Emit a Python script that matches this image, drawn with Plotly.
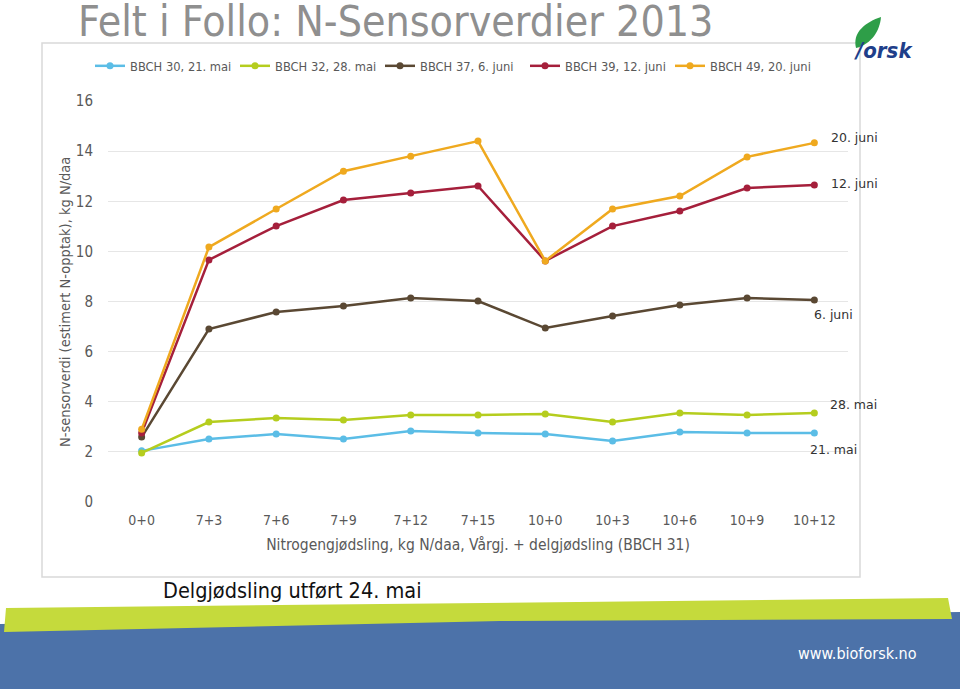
import plotly.graph_objects as go

categories = ["0+0", "7+3", "7+6", "7+9", "7+12", "7+15", "10+0", "10+3", "10+6", "10+9", "10+12"]
series_names = ["BBCH 30, 21. mai", "BBCH 32, 28. mai", "BBCH 37, 6. juni", "BBCH 39, 12. juni", "BBCH 49, 20. juni"]
end_labels = ["21. mai", "28. mai", "6. juni", "12. juni", "20. juni"]
bbch30 = [2.04, 2.51, 2.71, 2.51, 2.83, 2.75, 2.71, 2.43, 2.79, 2.75, 2.75]
bbch32 = [1.96, 3.19, 3.35, 3.27, 3.47, 3.47, 3.51, 3.19, 3.55, 3.47, 3.55]
bbch37 = [2.59, 6.90, 7.58, 7.82, 8.14, 8.02, 6.94, 7.42, 7.86, 8.14, 8.06]
bbch39 = [2.75, 9.66, 11.01, 12.05, 12.33, 12.61, 9.62, 11.01, 11.61, 12.53, 12.65]
bbch49 = [2.90, 10.17, 11.69, 13.20, 13.80, 14.40, 9.62, 11.69, 12.21, 13.77, 14.33]
y_ticks = [0, 2, 4, 6, 8, 10, 12, 14, 16]

values = [bbch30, bbch32, bbch37, bbch39, bbch49]
colors = ["#5BBDE6", "#B5CD1E", "#5A4833", "#A51F3B", "#EFA91F"]

W, H = 960, 689
L, R, T, B = 108, 112, 101, 187
PW, PH = W - L - R, H - T - B

def px(x):
    return (x - L) / PW

def py(y):
    return (H - B - y) / PH

font = "DejaVu Sans Condensed"
fig = go.Figure()
for name, vals, col in zip(series_names, values, colors):
    fig.add_trace(go.Scatter(
        x=categories, y=vals, name=name, mode="lines+markers",
        line=dict(color=col, width=2.5),
        marker=dict(color=col, size=7),
    ))

# end labels (pixel offsets from the last point)
label_offsets = [(-6, -16), (14, 9), (-2, -14), (15, 1), (15, 5)]
for lab, vals, (dx, dy) in zip(end_labels, values, label_offsets):
    fig.add_annotation(x=categories[-1], y=vals[-1], text=lab, showarrow=False,
                       xref="x", yref="y", xanchor="left", xshift=dx, yshift=dy,
                       font=dict(family="DejaVu Sans", size=12.5, color="#333333"))

shapes = []
# chart frame
shapes.append(dict(type="rect", xref="paper", yref="paper",
                   x0=px(42), x1=px(860), y0=py(577), y1=py(43),
                   line=dict(color="#D9D9D9", width=1.5), fillcolor="rgba(0,0,0,0)", layer="below"))
# blue band
shapes.append(dict(type="path", xref="paper", yref="paper",
                   path=f"M {px(0)},{py(624)} L {px(960)},{py(612)} L {px(960)},{py(689)} L {px(0)},{py(689)} Z",
                   fillcolor="#4C72A9", line=dict(width=0), layer="below"))
# green band
shapes.append(dict(type="path", xref="paper", yref="paper",
                   path=f"M {px(6)},{py(608)} L {px(948)},{py(598)} L {px(952)},{py(619)} L {px(500)},{py(621)} L {px(4)},{py(632)} Z",
                   fillcolor="#C5DA3C", line=dict(width=0), layer="below"))
# leaf logo
shapes.append(dict(type="path", xref="paper", yref="paper",
                   path=f"M {px(856)},{py(48)} C {px(852)},{py(32)} {px(866)},{py(22)} {px(881)},{py(17)} C {px(880)},{py(30)} {px(872)},{py(44)} {px(856)},{py(48)} Z",
                   fillcolor="#2E9E48", line=dict(width=0)))

fig.update_layout(
    width=W, height=H,
    margin=dict(l=L, r=R, t=T, b=B),
    paper_bgcolor="white", plot_bgcolor="white",
    shapes=shapes,
    showlegend=True,
    legend=dict(orientation="h", x=px(90), y=py(66), xanchor="left", yanchor="middle",
                font=dict(family=font, size=12.8, color="#595959"),
                bgcolor="rgba(0,0,0,0)", itemwidth=30, tracegroupgap=0,
                entrywidth=100, entrywidthmode="pixels"),
    xaxis=dict(type="category", range=[-0.5, 10.5], showgrid=False, zeroline=False,
               showline=False, ticks="", tickfont=dict(family=font, size=14, color="#595959"),
               ticklabelstandoff=8,
               title=dict(text="Nitrogengjødsling, kg N/daa, Vårgj. + delgjødsling (BBCH 31)",
                          font=dict(family=font, size=15.5, color="#595959"), standoff=12)),
    yaxis=dict(range=[0, 16], tickvals=y_ticks, showgrid=True, gridcolor="#E6E6E6", gridwidth=1,
               zeroline=False, showline=False, ticks="",
               tickfont=dict(family=font, size=15, color="#595959"), ticklabelstandoff=14),
)

fig.add_annotation(text="N-sensorverdi (estimert N-opptak), kg N/daa", xref="paper", yref="paper",
                   x=px(65), y=py(302), xanchor="center", yanchor="middle", textangle=-90, showarrow=False,
                   font=dict(family=font, size=14.5, color="#595959"))
fig.add_annotation(text="Felt i Follo: N-Sensorverdier 2013", xref="paper", yref="paper",
                   x=px(76), y=py(21), xanchor="left", yanchor="middle", showarrow=False,
                   font=dict(family=font, size=42.5, color="#8F8F8F"))
fig.add_annotation(text="Delgjødsling utført 24. mai", xref="paper", yref="paper",
                   x=px(161), y=py(590), xanchor="left", yanchor="middle", showarrow=False,
                   font=dict(family=font, size=21.5, color="#111111"))
fig.add_annotation(text="www.bioforsk.no", xref="paper", yref="paper",
                   x=px(919), y=py(653), xanchor="right", yanchor="middle", showarrow=False,
                   font=dict(family=font, size=16, color="#FFFFFF"))
fig.add_annotation(text="<b><i>/orsk</i></b>", xref="paper", yref="paper",
                   x=px(852), y=py(50), xanchor="left", yanchor="middle", showarrow=False,
                   font=dict(family=font, size=22, color="#1F3F8A"))

fig.write_html("out.html", config={"displayModeBar": False},
               post_script="document.body.style.margin='0';document.body.style.overflow='hidden';")
